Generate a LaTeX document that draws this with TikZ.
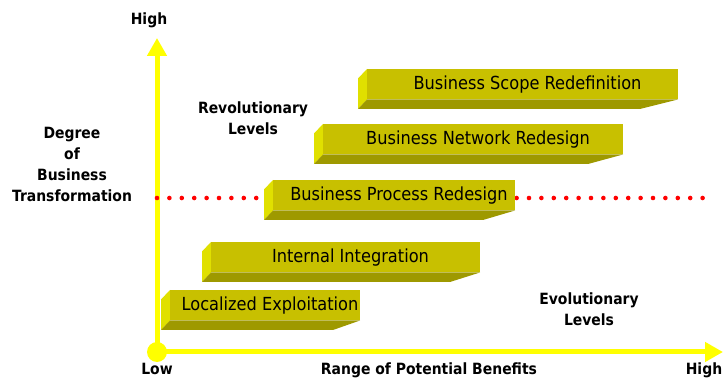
\documentclass[tikz,border=0pt]{standalone}
\usepackage{fontspec}
\setmainfont{DejaVu Sans}[FakeStretch=0.9]
\usepackage{xcolor}
\usepackage{tikz}
\usetikzlibrary{arrows.meta, calc}

\definecolor{axisyellow}{RGB}{255,255,0}
\definecolor{barfront}{RGB}{200,192,0}
\definecolor{barside}{RGB}{224,224,0}
\definecolor{barbottom}{RGB}{158,153,0}
\definecolor{dotred}{RGB}{255,0,0}

% name, left, top, right, slant of the bottom face, text
\newcommand{\levelbar}[6]{%
  \coordinate (#1-tl) at (#2,#3);
  \coordinate (#1-bl) at (#2,#3+30.5);
  \coordinate (#1-br) at (#4,#3+30.5);
  \fill[barside] (#1-tl) -- ++(-9,9.5) -- ($ (#1-bl)+(-9,9.5) $) -- (#1-bl) -- cycle;
  \fill[barbottom] (#1-bl) -- (#1-br) -- ++(-#5,9.5) -- ($ (#1-bl)+(-9,9.5) $) -- cycle;
  \fill[barfront] (#1-tl) rectangle (#1-br);
  \node[bartext] (#1) at ($ (#1-tl)!0.5!(#1-br)+(5,0) $) {#6};
}

\begin{document}
\begin{tikzpicture}[x=1pt, y=-1pt,
  axis/.style={line width=5pt, draw=axisyellow, -{Triangle[width=19pt,length=18pt]}},
  reddots/.style={draw=dotred, line width=4.6pt, line cap=round, dash pattern=on 0pt off 12.4pt},
  axislabel/.style={font=\fontsize{15.5}{21}\selectfont\bfseries, align=center, inner sep=0pt},
  bartext/.style={font=\fontsize{18}{21}\selectfont, inner sep=0pt}]

  \useasboundingbox (0,0) rectangle (724,379);

  \coordinate (O) at (157,352);
  \coordinate (ytip) at (157,38);
  \coordinate (xtip) at (723,352);
  \coordinate (dl) at (157,198);
  \coordinate (dr) at (704,198);

  \draw[axis] (O) -- (ytip);
  \draw[axis] (O) -- (xtip);
  \fill[axisyellow] (O) circle (10pt);

  \draw[reddots] (dl) -- (dr);

  \levelbar{loc}{170}{290}{360}{27}{Localized Exploitation}
  \levelbar{int}{211}{242}{480}{30}{Internal Integration}
  \levelbar{proc}{273}{180}{515}{32}{Business Process Redesign}
  \levelbar{net}{323}{124}{623}{35}{Business Network Redesign}
  \levelbar{scope}{367}{69}{678}{38}{Business Scope Redefinition}

  \node[axislabel, anchor=base] (yhigh) at (149,25) {High};
  \node[axislabel, anchor=base] (xlow) at (157,375) {Low};
  \node[axislabel, anchor=base] (xname) at (429,375) {Range of Potential Benefits};
  \node[axislabel, anchor=base] (xhigh) at (704,375) {High};
  \node[axislabel] (degree) at (72,164) {Degree\\of\\Business\\Transformation};
  \node[axislabel] (revo) at (253,118) {Revolutionary\\Levels};
  \node[axislabel] (evo) at (589,309) {Evolutionary\\Levels};

\end{tikzpicture}
\end{document}
